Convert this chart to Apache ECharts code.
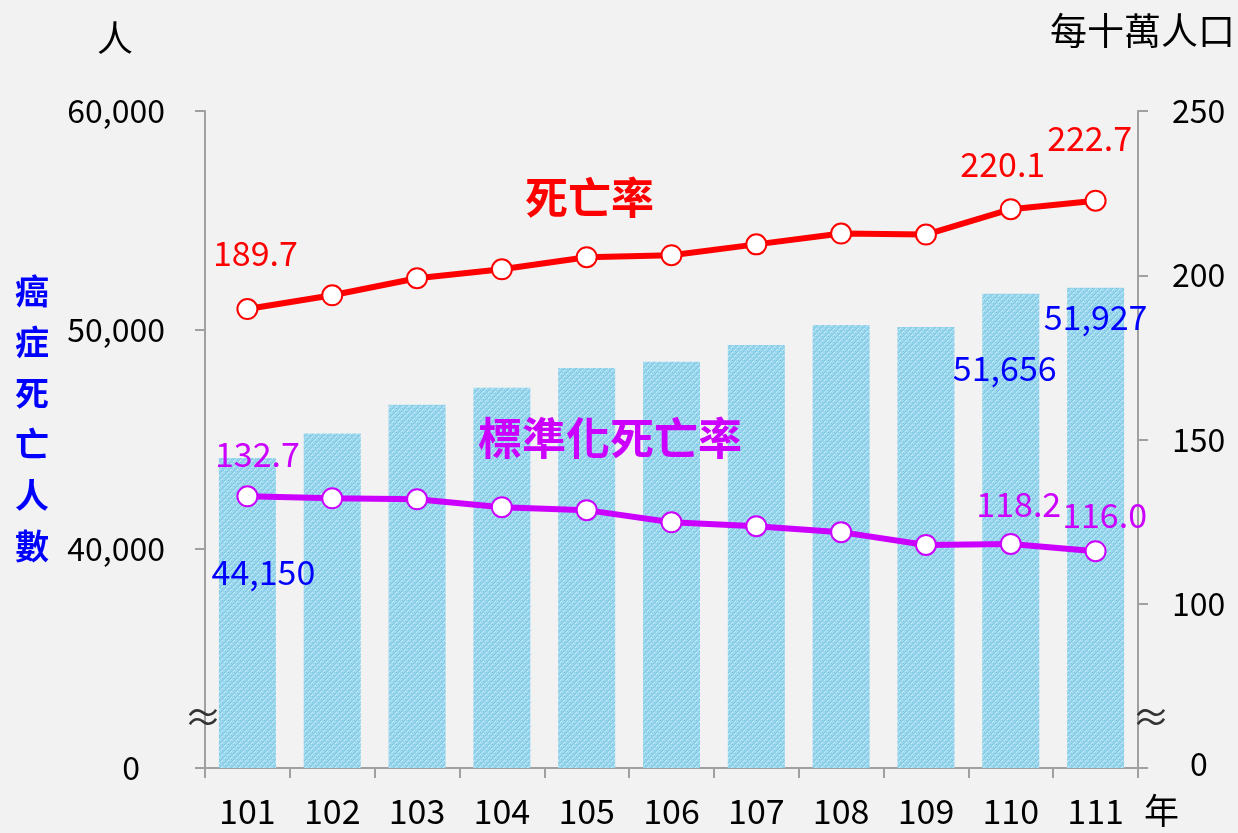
<!DOCTYPE html>
<html>
<head>
<meta charset="utf-8">
<script src="https://cdn.jsdelivr.net/npm/echarts@6/dist/echarts.min.js"></script>
<style>
html, body { margin: 0; padding: 0; background: #f2f2f2; }
#main { width: 1238px; height: 833px; }
</style>
</head>
<body>
<div id="main"></div>
<script>
var years = ['101', '102', '103', '104', '105', '106', '107', '108', '109', '110', '111'];
var deaths = [44150, 45270, 46590, 47360, 48270, 48545, 49320, 50230, 50140, 51656, 51927];
var deathRate = [189.7, 193.9, 199.1, 201.8, 205.5, 206.1, 209.4, 212.7, 212.4, 220.1, 222.7];
var stdRate = [132.7, 132.1, 131.8, 129.4, 128.5, 124.8, 123.6, 121.8, 117.9, 118.2, 116.0];
var leftTicks = [30000, 40000, 50000, 60000];   // 30000 drawn as "0" (broken axis)
var rightTicks = [50, 100, 150, 200, 250];       // 50 drawn as "0" (broken axis)

var FONT = '"Noto Sans CJK TC", "Noto Sans", sans-serif';

// crosshatch fill for bars
function makePattern() {
	var c = document.createElement('canvas');
	c.width = 6; c.height = 6;
	var g = c.getContext('2d');
	g.fillStyle = '#9dd8ee';
	g.fillRect(0, 0, 6, 6);
	g.fillStyle = '#7cc6e2';
	g.fillRect(0, 0, 1, 1); g.fillRect(3, 3, 1, 1);
	g.fillRect(1, 1, 1, 1); g.fillRect(4, 4, 1, 1);
	g.fillRect(2, 0, 1, 1); g.fillRect(5, 3, 1, 1);
	g.fillRect(0, 2, 1, 1); g.fillRect(3, 5, 1, 1);
	g.fillStyle = '#c4ebf8';
	g.fillRect(2, 2, 1, 1); g.fillRect(5, 5, 1, 1);
	g.fillRect(0, 4, 1, 1); g.fillRect(3, 1, 1, 1);
	return c;
}

function labelled(arr, cfg) {
	return arr.map(function (v, i) {
		if (cfg[i]) return { value: v, label: cfg[i] };
		return { value: v, label: { show: false } };
	});
}

var chart = echarts.init(document.getElementById('main'));

var redLabels = {
	0: { show: true, offset: [8, -23] },
	9: { show: true, offset: [-8, -12] },
	10: { show: true, offset: [-6, -30] }
};
var purpleLabels = {
	0: { show: true, offset: [10, -9] },
	9: { show: true, offset: [8, -7] },
	10: { show: true, offset: [9, -3] }
};
var barLabels = {
	0: { show: true, position: 'insideTop', offset: [16, 92] },
	9: { show: true, position: 'insideTop', offset: [-6, 52] },
	10: { show: true, position: 'insideTop', offset: [0, 7] }
};

var option = {
	backgroundColor: '#f2f2f2',
	animation: false,
	textStyle: { fontFamily: FONT },
	grid: { left: 205, right: 100, top: 111, bottom: 65 },
	xAxis: {
		type: 'category',
		data: years,
		axisLine: { lineStyle: { color: '#a0a0a0', width: 2 } },
		axisTick: { show: true, length: 10, lineStyle: { color: '#a0a0a0', width: 2 } },
		axisLabel: { color: '#000', fontSize: 34, margin: 26, fontFamily: FONT }
	},
	yAxis: [{
		type: 'value',
		min: 30000, max: 60000, interval: 10000,
		splitLine: { show: false },
		axisLine: { show: true, lineStyle: { color: '#a0a0a0', width: 2 } },
		axisTick: { show: true, length: 10, lineStyle: { color: '#a0a0a0', width: 2 } },
		axisLabel: {
			color: '#000', fontSize: 32, margin: 40, fontFamily: FONT,
			formatter: function (v) {
				if (v === 30000) return '{z|0}';
				return echarts.format.addCommas(v);
			},
			rich: { z: { fontSize: 32, color: '#000', padding: [0, 25, 0, 0], fontFamily: FONT } }
		}
	}, {
		type: 'value',
		min: 50, max: 250, interval: 50,
		splitLine: { show: false },
		axisLine: { show: true, lineStyle: { color: '#a0a0a0', width: 2 } },
		axisTick: { show: true, length: 10, lineStyle: { color: '#a0a0a0', width: 2 } },
		axisLabel: {
			color: '#000', fontSize: 32, margin: 34, fontFamily: FONT,
			formatter: function (v) {
				if (v === 50) return '{z|0}';
				return String(v);
			},
			rich: { z: { fontSize: 32, color: '#000', padding: [0, 0, 8, 18], fontFamily: FONT } }
		}
	}],
	series: [{
		name: '癌症死亡人數',
		type: 'bar',
		yAxisIndex: 0,
		barWidth: 57,
		data: labelled(deaths, barLabels),
		itemStyle: { color: { image: makePattern(), repeat: 'repeat' } },
		label: {
			color: '#0000ff', fontSize: 34, fontFamily: FONT,
			formatter: function (p) { return echarts.format.addCommas(p.value); }
		},
		z: 1
	}, {
		name: '死亡率',
		type: 'line',
		yAxisIndex: 1,
		data: labelled(deathRate, redLabels),
		lineStyle: { color: '#ff0000', width: 6 },
		symbol: 'circle',
		symbolSize: 20,
		itemStyle: { color: '#ffffff', borderColor: '#ff0000', borderWidth: 2 },
		label: {
			position: 'top', color: '#ff0000', fontSize: 34, fontFamily: FONT,
			formatter: function (p) { return p.value.toFixed(1); }
		},
		z: 3
	}, {
		name: '標準化死亡率',
		type: 'line',
		yAxisIndex: 1,
		data: labelled(stdRate, purpleLabels),
		lineStyle: { color: '#cc00ff', width: 6 },
		symbol: 'circle',
		symbolSize: 20,
		itemStyle: { color: '#ffffff', borderColor: '#cc00ff', borderWidth: 2 },
		label: {
			position: 'top', color: '#cc00ff', fontSize: 34, fontFamily: FONT,
			formatter: function (p) { return p.value.toFixed(1); }
		},
		z: 3
	}],
	graphic: [
		{ type: 'text', z: 100, left: 97, top: 20, style: { text: '人', fill: '#000', font: '36px ' + FONT } },
		{ type: 'text', z: 100, left: 1050, top: 12, style: { text: '每十萬人口', fill: '#000', font: '37px ' + FONT } },
		{ type: 'text', z: 100, left: 1144, top: 793, style: { text: '年', fill: '#000', font: '35px ' + FONT } },
		{ type: 'text', z: 100, left: 15, top: 266, style: { text: '癌\n症\n死\n亡\n人\n數', fill: '#0000ff', font: 'bold 34px ' + FONT, lineHeight: 51 } },
		{ type: 'text', z: 100, left: 525, top: 176, style: { text: '死亡率', fill: '#ff0000', font: 'bold 43px ' + FONT } },
		{ type: 'text', z: 100, left: 478, top: 416, style: { text: '標準化死亡率', fill: '#cc00ff', font: 'bold 44px ' + FONT } },
		{ type: 'text', z: 100, left: 184, top: 698, style: { text: '≈', fill: '#333', font: '38px ' + FONT } },
		{ type: 'text', z: 100, left: 1132, top: 698, style: { text: '≈', fill: '#333', font: '38px ' + FONT } }
	]
};

chart.setOption(option);
</script>
</body>
</html>
